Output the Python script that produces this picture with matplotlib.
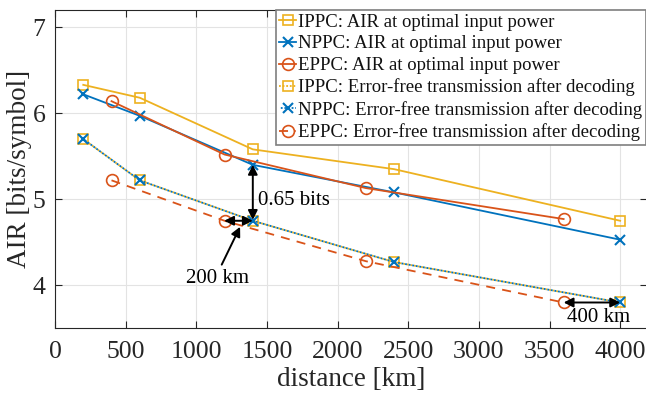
import matplotlib
matplotlib.use("Agg")
import matplotlib.pyplot as plt

plt.rcParams['font.family'] = ['Liberation Serif', 'DejaVu Serif']
plt.rcParams['mathtext.fontset'] = 'stix'

# Data
d_ippc = [200, 600, 1400, 2400, 4000]
air_ippc = [6.33, 6.18, 5.58, 5.35, 4.75]
d_nppc = [200, 600, 1400, 2400, 4000]
air_nppc = [6.22, 5.97, 5.40, 5.08, 4.53]
d_eppc = [400, 1200, 2200, 3600]
air_eppc = [6.14, 5.52, 5.13, 4.77]
ef_ippc = [5.70, 5.22, 4.75, 4.27, 3.80]
ef_nppc = [5.70, 5.22, 4.75, 4.27, 3.80]
ef_eppc = [5.22, 4.75, 4.28, 3.80]

labels = ["IPPC: AIR at optimal input power",
          "NPPC: AIR at optimal input power",
          "EPPC: AIR at optimal input power",
          "IPPC: Error-free transmission after decoding",
          "NPPC: Error-free transmission after decoding",
          "EPPC: Error-free transmission after decoding"]

xticks = [0, 500, 1000, 1500, 2000, 2500, 3000, 3500, 4000]
yticks = [4, 5, 6, 7]

C_Y = '#EDB120'
C_B = '#0072BD'
C_O = '#D95319'

fig = plt.figure(figsize=(6.46, 3.93), dpi=100)
ax = fig.add_axes([55/646, 1-328.3/393, 592/646, 318.3/393])

lw = 1.3
ax.plot(d_ippc, air_ippc, color=C_Y, lw=lw, marker='s', ms=7.5, mfc='none', mew=1.2, label=labels[0])
ax.plot(d_nppc, air_nppc, color=C_B, lw=lw, marker='x', ms=6.5, mew=1.5, label=labels[1])
ax.plot(d_eppc, air_eppc, color=C_O, lw=lw, marker='o', ms=8.5, mfc='none', mew=1.2, label=labels[2])
ax.plot(d_ippc, ef_ippc, color=C_Y, lw=lw, ls=(0, (1, 1)), marker='s', ms=7.5, mfc='none', mew=1.2, label=labels[3])
ax.plot(d_nppc, ef_nppc, color=C_B, lw=lw, ls=(1, (1, 1)), marker='x', ms=6.5, mew=1.5, label=labels[4])
ax.plot(d_eppc, ef_eppc, color=C_O, lw=lw, ls=(0, (5, 4)), marker='o', ms=8.5, mfc='none', mew=1.2, label=labels[5])

ax.set_xlim(0, 4190)
ax.set_ylim(3.5, 7.2)
ax.set_xticks(xticks)
ax.set_yticks(yticks)
ax.tick_params(direction='in', length=5, width=0.8, labelsize=18.5, top=True, right=True,
               colors='#262626', pad=7)
ax.tick_params(axis='x', pad=9)
ax.grid(True, color='#e3e3e3', lw=0.8)
ax.set_axisbelow(True)
for s in ax.spines.values():
    s.set_color('#262626')
    s.set_linewidth(0.8)

ax.set_xlabel('distance [km]', fontsize=19.5, color='#262626', labelpad=3)
ax.set_ylabel('AIR [bits/symbol]', fontsize=19.5, color='#262626', labelpad=0)

leg = ax.legend(loc='upper right', bbox_to_anchor=(0.9985, 1.0), fontsize=13.5, frameon=True,
                fancybox=False, edgecolor='#7f7f7f', framealpha=1, handlelength=0.9,
                handletextpad=0.1, labelspacing=0.24, borderpad=0.2, borderaxespad=0)
leg.get_frame().set_linewidth(1.2)
for t in leg.get_texts():
    t.set_color('#111111')

ak = dict(arrowstyle='<|-|>', color='black', lw=1.4, mutation_scale=14, shrinkA=0, shrinkB=0)
ax.annotate('', xy=(1400, 5.40), xytext=(1400, 4.76), arrowprops=ak)
ax.annotate('', xy=(1197, 4.75), xytext=(1400, 4.75), arrowprops=ak)
ax.annotate('', xy=(3600, 3.80), xytext=(4000, 3.80), arrowprops=ak)
ax.annotate('', xy=(1310, 4.68), xytext=(1180, 4.24),
            arrowprops=dict(arrowstyle='-|>', color='black', lw=1.4, mutation_scale=14, shrinkA=0, shrinkB=0))
ax.text(1435, 4.98, '0.65 bits', fontsize=15, va='center', ha='left')
ax.text(1150, 4.08, '200 km', fontsize=15, va='center', ha='center')
ax.text(3846, 3.63, '400 km', fontsize=15, va='center', ha='center')

fig.savefig('out.png', dpi=100)
